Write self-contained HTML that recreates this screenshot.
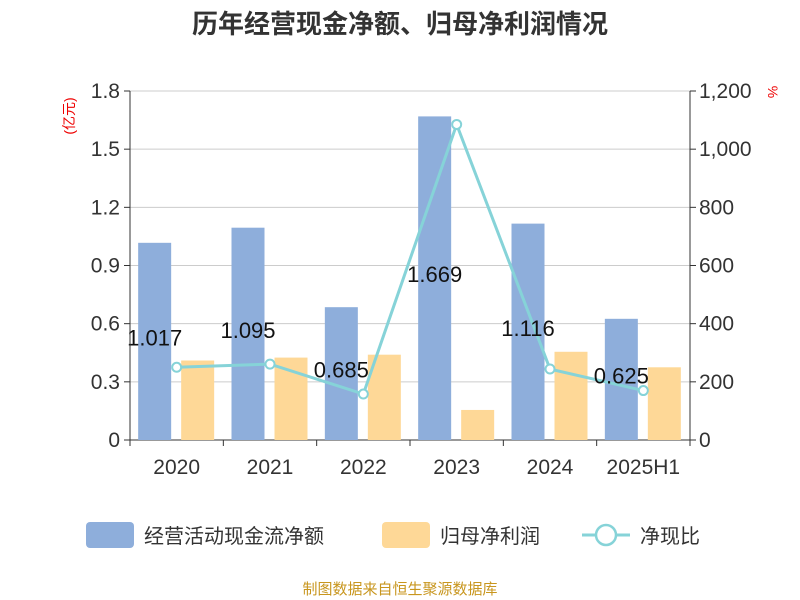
<!DOCTYPE html>
<html><head><meta charset="utf-8">
<style>
body{margin:0;background:#fff;}
svg{display:block;font-family:"Liberation Sans","Noto Sans CJK SC",sans-serif;}
</style></head>
<body>
<svg id="chart" width="800" height="600">
<text x="400" y="33" text-anchor="middle" font-size="26" font-weight="bold" fill="#333">历年经营现金净额、归母净利润情况</text>
<text transform="translate(74,116) rotate(-90)" text-anchor="middle" font-size="14" fill="#e00">(亿元)</text>
<text transform="translate(768,92) rotate(90)" text-anchor="middle" font-size="14" fill="#e00">%</text>
<g id="grid"></g><g id="bars"></g><g id="line"></g><g id="axes"></g>
<g>
<rect x="86" y="522" width="48" height="26" rx="4" fill="#8eaedb"/>
<text x="144" y="543" font-size="20" fill="#333">经营活动现金流净额</text>
<rect x="382" y="522" width="48" height="26" rx="4" fill="#fed897"/>
<text x="440" y="543" font-size="20" fill="#333">归母净利润</text>
<line x1="582" y1="535" x2="630" y2="535" stroke="#86d3d8" stroke-width="3"/>
<circle cx="606" cy="535" r="10" fill="#fff" stroke="#86d3d8" stroke-width="2.5"/>
<text x="640" y="543" font-size="20" fill="#333">净现比</text>
</g>
<text x="400" y="594" text-anchor="middle" font-size="15" fill="#c8961e">制图数据来自恒生聚源数据库</text>
</svg>
<script>
const categories=["2020","2021","2022","2023","2024","2025H1"];
const cashFlow=[1.017,1.095,0.685,1.669,1.116,0.625];
const netProfit=[0.41,0.425,0.44,0.155,0.455,0.375];
const ratio=[250,261,158,1085,244,170];
const leftTicks=[0,0.3,0.6,0.9,1.2,1.5,1.8];
const rightTicks=["0","200","400","600","800","1,000","1,200"];
const rightVals=[0,200,400,600,800,1000,1200];

const X0=130,X1=690,Y0=440,Y1=91,NS="http://www.w3.org/2000/svg";
const band=(X1-X0)/categories.length;
const yL=v=>Y0-(v/1.8)*(Y0-Y1);
const yR=v=>Y0-(v/1200)*(Y0-Y1);
const xC=i=>X0+band*(i+0.5);
function mk(tag,attrs,parent,txt){const e=document.createElementNS(NS,tag);for(const k in attrs)e.setAttribute(k,attrs[k]);if(txt!==undefined)e.textContent=txt;parent.appendChild(e);return e;}
const grid=document.getElementById('grid'),bars=document.getElementById('bars'),line=document.getElementById('line'),axes=document.getElementById('axes');
leftTicks.forEach((t,i)=>{
  const y=yL(t);
  const g=mk('line',{x1:X0,x2:X1,y1:y,y2:y,stroke:i===0?'#333':'#ccc','stroke-width':1},grid);
  
  
  const tk=mk('line',{x1:X0-6,x2:X0,y1:y,y2:y,stroke:'#333'},axes);
  
  
  const lt=mk('text',{x:X0-10,y:y+7,'text-anchor':'end','font-size':21,fill:'#333'},axes,String(t));
  
  
});
rightVals.forEach((v,i)=>{
  const y=yR(v);
  const tk=mk('line',{x1:X1,x2:X1+6,y1:y,y2:y,stroke:'#333'},axes);
  
  
  const rt=mk('text',{x:X1+9,y:y+7,'font-size':21,fill:'#333'},axes,rightTicks[i]);
  
  
});
const la=mk('line',{x1:X0,x2:X0,y1:Y1,y2:Y0,stroke:'#333'},axes);


const ra=mk('line',{x1:X1,x2:X1,y1:Y1,y2:Y0,stroke:'#333'},axes);


for(let i=0;i<=categories.length;i++){
  const t=mk('line',{x1:X0+band*i,x2:X0+band*i,y1:Y0,y2:Y0+6,stroke:'#333'},axes);
  
  
}
const bw=33;
categories.forEach((c,i)=>{
  const cx=xC(i);
  const xl=mk('text',{x:cx,y:Y0+34,'text-anchor':'middle','font-size':21,fill:'#333'},axes,c);
  
  
  const b1=mk('rect',{x:cx-38.5,y:yL(cashFlow[i]),width:bw,height:Y0-yL(cashFlow[i]),fill:'#8eaedb'},bars);
  
  
  const b2=mk('rect',{x:cx+4.5,y:yL(netProfit[i]),width:bw,height:Y0-yL(netProfit[i]),fill:'#fed897'},bars);
  
  
});
const pts=ratio.map((v,i)=>xC(i)+','+yR(v)).join(' ');
const pl=mk('polyline',{points:pts,fill:'none',stroke:'#86d3d8','stroke-width':3},line);


ratio.forEach((v,i)=>{
  const c=mk('circle',{cx:xC(i),cy:yR(v),r:4.5,fill:'#fff',stroke:'#86d3d8','stroke-width':2},line);
  
  
});
categories.forEach((c,i)=>{
  const cx=xC(i)-22;
  const t=mk('text',{x:cx,y:(yL(cashFlow[i])+Y0)/2+4,'text-anchor':'middle','font-size':22,fill:'#111'},line,cashFlow[i].toFixed(3));
  
  
});
</script>
</body></html>
